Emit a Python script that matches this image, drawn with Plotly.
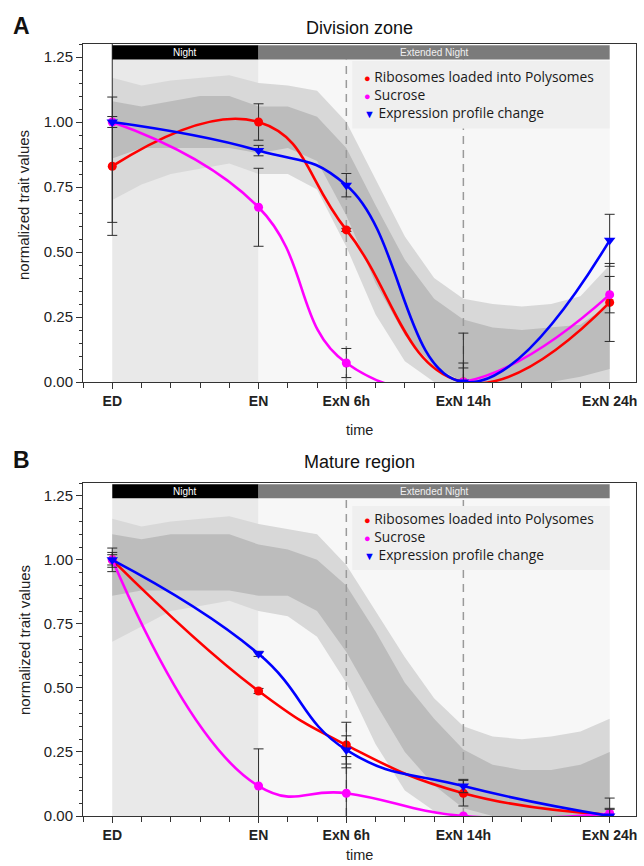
import plotly.graph_objects as go

# ---------------- data ----------------
categories = ["ED", "EN", "ExN 6h", "ExN 14h", "ExN 24h"]
time_h = [0, 10, 16, 24, 34]          # hours after end of day
event_times = [16, 24]                 # dashed sampling markers

series_names = ["Ribosomes loaded into Polysomes", "Sucrose", "Expression profile change"]
series_colors = ["#ff0000", "#ff00ff", "#0000ff"]
series_symbols = ["circle", "circle", "triangle-down"]
legend_glyphs = ["\u25CF", "\u25CF", "\u25BC"]

# Panel A - Division zone
ribo_A = [0.83, 1.00, 0.585, 0.00, 0.306]
ribo_A_err = [0.266, 0.07, 0.006, 0.054, 0.15]
sucr_A = [1.00, 0.672, 0.073, 0.00, 0.336]
sucr_A_err = [0.386, 0.15, 0.056, 0.073, 0.07]
expr_A = [1.00, 0.89, 0.757, 0.00, 0.545]
expr_A_err = [0.021, 0.02, 0.045, 0.188, 0.10]

# Panel B - Mature region
ribo_B = [1.00, 0.488, 0.277, 0.089, 0.005]
ribo_B_err = [0.046, 0.01, 0.089, 0.05, 0.065]
sucr_B = [1.00, 0.117, 0.089, 0.00, 0.01]
sucr_B_err = [0.02, 0.145, 0.143, 0.0, 0.02]
expr_B = [1.00, 0.633, 0.258, 0.117, 0.00]
expr_B_err = [0.029, 0.01, 0.055, 0.026, 0.026]

# background expression "cloud" (approximate envelopes)
band_t = [0, 2, 4, 6, 8, 10, 12, 14, 16, 18, 20, 22, 24, 26, 28, 30, 32, 34]
A_outer_hi = [1.17, 1.14, 1.16, 1.17, 1.18, 1.15, 1.14, 1.12, 1.00, 0.78, 0.56, 0.40, 0.32, 0.30, 0.29, 0.30, 0.33, 0.45]
A_outer_lo = [0.70, 0.76, 0.80, 0.82, 0.84, 0.80, 0.80, 0.74, 0.52, 0.26, 0.08, 0.00, 0.00, 0.00, 0.00, 0.00, 0.00, 0.00]
A_inner_hi = [1.08, 1.06, 1.08, 1.10, 1.10, 1.06, 1.06, 1.02, 0.90, 0.68, 0.47, 0.32, 0.24, 0.21, 0.20, 0.21, 0.22, 0.30]
A_inner_lo = [0.86, 0.90, 0.90, 0.90, 0.90, 0.88, 0.90, 0.85, 0.64, 0.38, 0.18, 0.06, 0.00, 0.00, 0.00, 0.00, 0.02, 0.05]
B_outer_hi = [1.16, 1.13, 1.15, 1.16, 1.17, 1.14, 1.12, 1.10, 0.98, 0.80, 0.62, 0.46, 0.35, 0.31, 0.30, 0.31, 0.33, 0.38]
B_outer_lo = [0.68, 0.74, 0.80, 0.82, 0.84, 0.80, 0.78, 0.70, 0.52, 0.28, 0.10, 0.02, 0.00, 0.00, 0.00, 0.00, 0.00, 0.00]
B_inner_hi = [1.10, 1.08, 1.10, 1.10, 1.10, 1.06, 1.04, 1.00, 0.90, 0.72, 0.52, 0.38, 0.26, 0.20, 0.18, 0.18, 0.20, 0.25]
B_inner_lo = [0.86, 0.88, 0.88, 0.88, 0.88, 0.86, 0.86, 0.80, 0.64, 0.44, 0.25, 0.12, 0.03, 0.00, 0.00, 0.00, 0.00, 0.02]

y_ticks = [0, 0.25, 0.5, 0.75, 1.0, 1.25]

# ---------------- figure ----------------
W, H = 644, 866
ML, MR, MT, MB = 83, 8, 44, 50
X_RANGE = [-2, 35.8]
Y_RANGE = [0, 1.3]
FONT = "Liberation Sans, Arial, sans-serif"

fig = go.Figure()

panels = [
    dict(xa="x", ya="y", vals=[(ribo_A, ribo_A_err), (sucr_A, sucr_A_err), (expr_A, expr_A_err)],
         bands=[(A_outer_hi, A_outer_lo, "#d8d8d8"), (A_inner_hi, A_inner_lo, "#bcbcbc")]),
    dict(xa="x2", ya="y2", vals=[(ribo_B, ribo_B_err), (sucr_B, sucr_B_err), (expr_B, expr_B_err)],
         bands=[(B_outer_hi, B_outer_lo, "#d8d8d8"), (B_inner_hi, B_inner_lo, "#bcbcbc")]),
]

for p in panels:
    for hi, lo, col in p["bands"]:
        fig.add_trace(go.Scatter(
            x=band_t + band_t[::-1], y=hi + lo[::-1], xaxis=p["xa"], yaxis=p["ya"],
            mode="lines", fill="toself", fillcolor=col, line=dict(width=0),
            hoverinfo="skip", showlegend=False))
    ex, ey = [], []
    for t in event_times:
        ex += [t, t, None]
        ey += [0, 1.24, None]
    fig.add_trace(go.Scatter(x=ex, y=ey, xaxis=p["xa"], yaxis=p["ya"], mode="lines",
                             line=dict(color="#9a9a9a", width=1.5, dash="8px,6px"),
                             hoverinfo="skip", showlegend=False))
    for (vals, errs), name, col, sym in zip(p["vals"], series_names, series_colors, series_symbols):
        fig.add_trace(go.Scatter(
            x=time_h, y=vals, xaxis=p["xa"], yaxis=p["ya"], name=name,
            mode="lines+markers", line=dict(color=col, width=2.6, shape="spline", smoothing=1.3),
            marker=dict(color=col, size=9 if sym == "circle" else 10, symbol=sym),
            error_y=dict(type="data", array=errs, visible=True, color="#2b2b2b", thickness=1, width=5),
            showlegend=False))

# axes
def yax(domain):
    return dict(domain=domain, range=Y_RANGE, tickvals=y_ticks, tickformat=".2f",
                ticks="outside", ticklen=6, tickcolor="#333", showline=True, linecolor="#333",
                linewidth=1, mirror=True, showgrid=False, zeroline=False,
                tickfont=dict(family=FONT, size=15, color="#222"),
                minor=dict(tick0=0, dtick=0.05, ticks="outside", ticklen=3, tickcolor="#333"))

def xax(anchor):
    return dict(anchor=anchor, range=X_RANGE, tickvals=time_h, ticktext=categories,
                ticks="outside", ticklen=6, tickcolor="#333", showline=True, linecolor="#333",
                linewidth=1, mirror=True, showgrid=False, zeroline=False, ticklabelstandoff=0,
                tickfont=dict(family=FONT, size=14, color="#222", weight="bold"),
                minor=dict(tick0=0, dtick=2, ticks="outside", ticklen=5, tickcolor="#333"))

ph = H - MT - MB
def py(pix):
    return (H - MB - pix) / ph

def px(pix):
    return (pix - ML) / (W - ML - MR)

A_dom = [py(382), 1.0]
B_dom = [0.0, py(483)]

fig.update_layout(
    width=W, height=H, margin=dict(l=ML, r=MR, t=MT, b=MB),
    paper_bgcolor="white", plot_bgcolor="white", showlegend=False,
    xaxis=xax("y"), yaxis=yax(A_dom),
    xaxis2=xax("y2"), yaxis2=yax(B_dom),
)

shapes = []
for xr, yr, box in [("x", "y", (0.975, 1.235)), ("x2", "y2", (0.96, 1.21))]:
    shapes += [
        dict(type="rect", xref=xr, yref=yr, x0=0, x1=10, y0=0, y1=1.24, fillcolor="#e9e9e9",
             line=dict(width=0), layer="below"),
        dict(type="rect", xref=xr, yref=yr, x0=10, x1=34, y0=0, y1=1.24, fillcolor="#f7f7f7",
             line=dict(width=0), layer="below"),
        dict(type="rect", xref=xr, yref=yr, x0=16.4, x1=34, y0=box[0], y1=box[1], fillcolor="#efefef",
             line=dict(width=0), layer="above"),
        dict(type="rect", xref=xr, yref=yr, x0=0, x1=10, y0=1.24, y1=1.295, fillcolor="#000000",
             line=dict(width=0), layer="above"),
        dict(type="rect", xref=xr, yref=yr, x0=10, x1=34, y0=1.24, y1=1.295, fillcolor="#7b7b7b",
             line=dict(width=0), layer="above"),
    ]
fig.update_layout(shapes=shapes)

ann = []
for xr, yr in [("x", "y"), ("x2", "y2")]:
    ann.append(dict(xref=xr, yref=yr, x=5, y=1.2675, text="Night", showarrow=False,
                    font=dict(family=FONT, size=10, color="white")))
    ann.append(dict(xref=xr, yref=yr, x=22, y=1.2675, text="Extended Night", showarrow=False,
                    font=dict(family=FONT, size=10, color="#f0f0f0")))

def legend_block(center_pix):
    lines = [f"<span style='color:{col};font-size:11px'>{g}</span> {name}"
             for g, name, col in zip(legend_glyphs, series_names, series_colors)]
    return dict(xref="paper", yref="paper", x=px(362), y=py(center_pix), xanchor="left",
                yanchor="middle", showarrow=False, align="left", text="<br>".join(lines),
                font=dict(family="Open Sans, sans-serif", size=13.8, color="#1a1a1a"))

ann.append(legend_block(94))
ann.append(legend_block(536))

for title, letter, tp, ytitle_c, time_p in [("Division zone", "A", 28, 205, 430),
                                             ("Mature region", "B", 462, 640, 855)]:
    ann.append(dict(xref="paper", yref="paper", x=px(359.5), y=py(tp), text=title, showarrow=False,
                    xanchor="center", yanchor="middle", font=dict(family=FONT, size=18, color="#111")))
    ann.append(dict(xref="paper", yref="paper", x=px(21), y=py(tp - 2), text=f"<b>{letter}</b>",
                    showarrow=False, xanchor="center", yanchor="middle",
                    font=dict(family=FONT, size=23, color="#111")))
    ann.append(dict(xref="paper", yref="paper", x=px(24), y=py(ytitle_c), text="normalized trait values",
                    textangle=-90, showarrow=False, xanchor="center", yanchor="middle",
                    font=dict(family=FONT, size=15, color="#222")))
    ann.append(dict(xref="paper", yref="paper", x=px(359.5), y=py(time_p), text="time", showarrow=False,
                    xanchor="center", yanchor="middle", font=dict(family=FONT, size=14.5, color="#222")))

fig.update_layout(annotations=ann)

fig.write_html("out.html", config={"displayModeBar": False},
               post_script="document.body.style.margin='0px';")
